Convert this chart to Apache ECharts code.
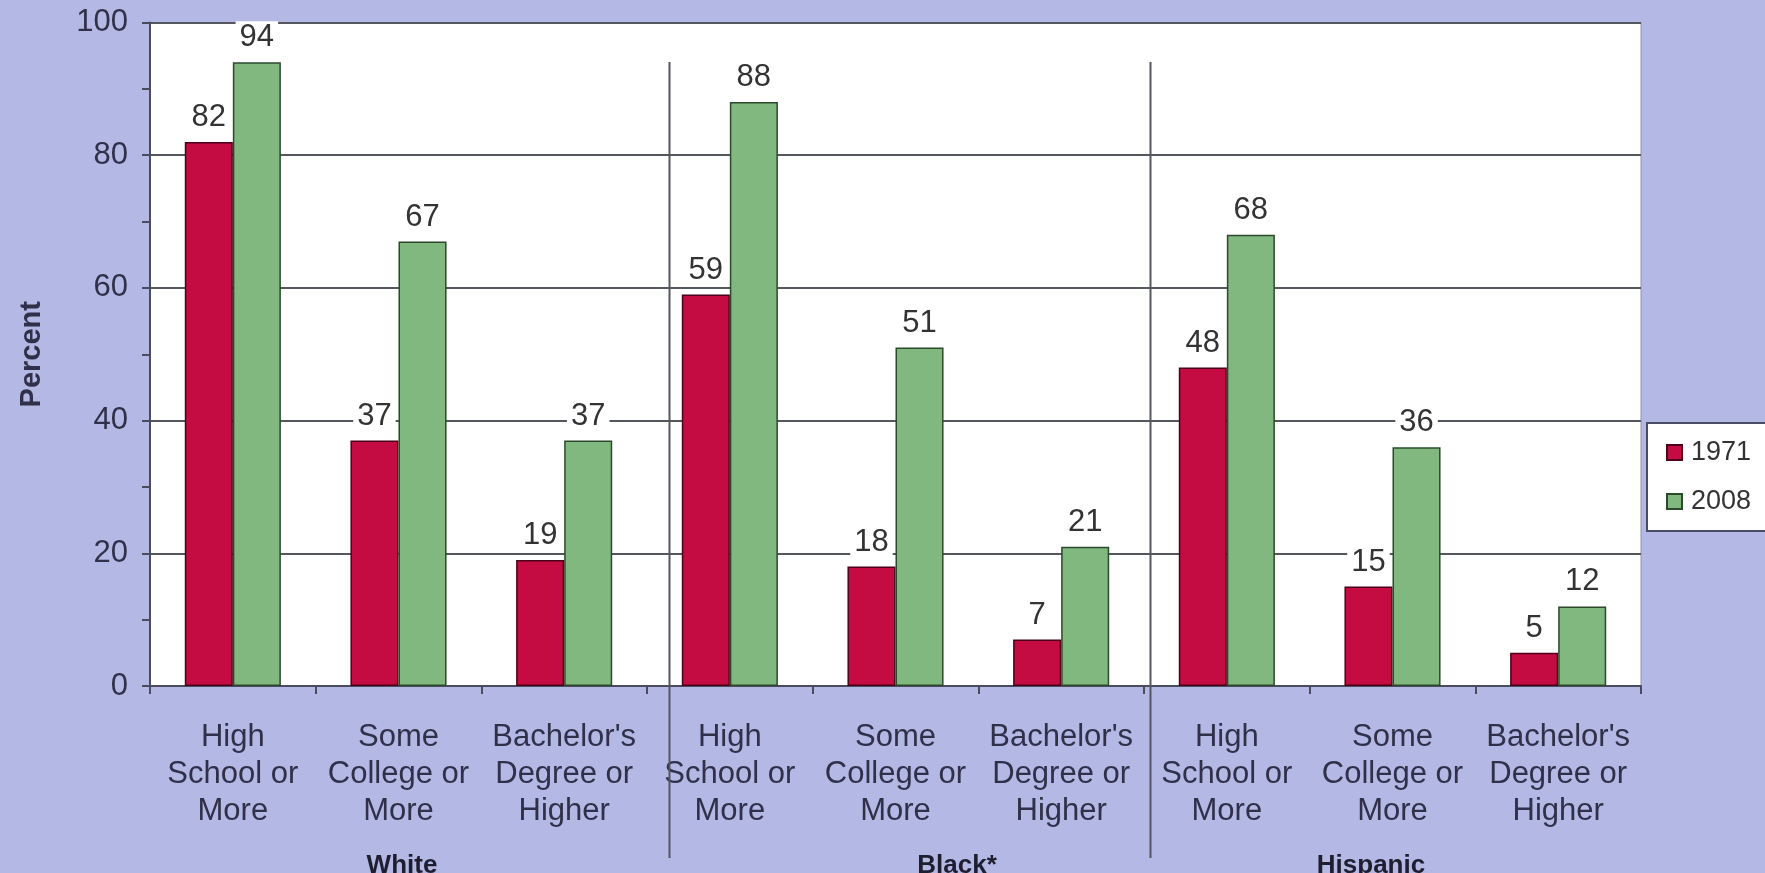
<!DOCTYPE html>
<html>
<head>
<meta charset="utf-8">
<script src="https://cdn.jsdelivr.net/npm/echarts@6/dist/echarts.min.js"></script>
<style>
  html, body { margin: 0; padding: 0; background: #b3b9e4; }
  #chart { width: 1765px; height: 873px; }
</style>
</head>
<body>
<div id="chart"></div>
<script>
const categories = [
  'High\nSchool or\nMore', 'Some\nCollege or\nMore', "Bachelor's\nDegree or\nHigher",
  'High\nSchool or\nMore', 'Some\nCollege or\nMore', "Bachelor's\nDegree or\nHigher",
  'High\nSchool or\nMore', 'Some\nCollege or\nMore', "Bachelor's\nDegree or\nHigher"
];
const years = ['1971', '2008'];
const values1971 = [82, 37, 19, 59, 18, 7, 48, 15, 5];
const values2008 = [94, 67, 37, 88, 51, 21, 68, 36, 12];
const groups = ['White', 'Black*', 'Hispanic'];

const FONT = '"Liberation Sans", Arial, sans-serif';
const TEXT = '#30304a';

const chart = echarts.init(document.getElementById('chart'));

const barLabel = {
  show: true,
  position: 'top',
  distance: 8,
  color: '#333',
  fontFamily: FONT,
  fontSize: 31,
  backgroundColor: '#fff',
  padding: [1, 4]
};

chart.setOption({
  animation: false,
  backgroundColor: '#b3b9e4',
  textStyle: { fontFamily: FONT },
  grid: {
    left: 150, right: 124, top: 22.5, bottom: 187,
    show: true, backgroundColor: '#fff',
    borderColor: '#8f93a8', borderWidth: 1
  },
  legend: {
    orient: 'vertical',
    left: 1647, top: 423,
    data: years,
    icon: 'rect',
    itemWidth: 15, itemHeight: 15, itemGap: 22,
    padding: [16, 60, 16, 19],
    backgroundColor: '#fff',
    borderColor: '#4a4c66', borderWidth: 2,
    textStyle: { fontFamily: FONT, fontSize: 27, color: '#333', padding: [0, 0, 0, 4] }
  },
  xAxis: {
    type: 'category',
    data: categories,
    axisLine: { lineStyle: { color: '#4a4c5e', width: 2 } },
    axisTick: { show: true, length: 8, lineStyle: { color: '#4a4c5e', width: 2 } },
    axisLabel: {
      interval: 0, margin: 33,
      color: TEXT, fontFamily: FONT, fontSize: 31, lineHeight: 37
    }
  },
  yAxis: {
    type: 'value',
    min: 0, max: 100, interval: 20,
    name: 'Percent',
    nameLocation: 'middle',
    nameGap: 104,
    nameTextStyle: { fontFamily: FONT, fontSize: 29, fontWeight: 'bold', color: TEXT },
    axisLine: { show: true, lineStyle: { color: '#4a4c5e', width: 2 } },
    axisTick: { show: true, length: 8, lineStyle: { color: '#4a4c5e', width: 2 } },
    minorTick: { show: true, splitNumber: 2, length: 8, lineStyle: { color: '#4a4c5e', width: 2 } },
    axisLabel: { margin: 22, color: TEXT, fontFamily: FONT, fontSize: 31 },
    splitLine: { show: true, lineStyle: { color: '#55575f', width: 2 } }
  },
  series: [
    {
      name: years[0],
      type: 'bar',
      data: values1971,
      barGap: '0%',
      barCategoryGap: '42%',
      itemStyle: { color: '#c40c43', borderColor: '#4d0019', borderWidth: 1.5 },
      label: barLabel
    },
    {
      name: years[1],
      type: 'bar',
      data: values2008,
      itemStyle: { color: '#80b880', borderColor: '#2b4a2b', borderWidth: 1.5 },
      label: barLabel
    }
  ]
});

// separators between groups and group names below the axis
const separatorX = [669.5, 1150.5];
const groupLabelX = [402, 957, 1371];
const graphics = [];
separatorX.forEach((x) => {
  graphics.push({
    type: 'line',
    shape: { x1: x, y1: 62, x2: x, y2: 858 },
    style: { stroke: '#55575f', lineWidth: 2 },
    z: 10
  });
});
groups.forEach((g, k) => {
  graphics.push({
    type: 'text',
    x: groupLabelX[k], y: 866,
    style: {
      text: g, align: 'center', verticalAlign: 'middle',
      font: 'bold 26px ' + FONT, fill: '#1e1e30'
    }
  });
});
chart.setOption({ graphic: graphics });
</script>
</body>
</html>
